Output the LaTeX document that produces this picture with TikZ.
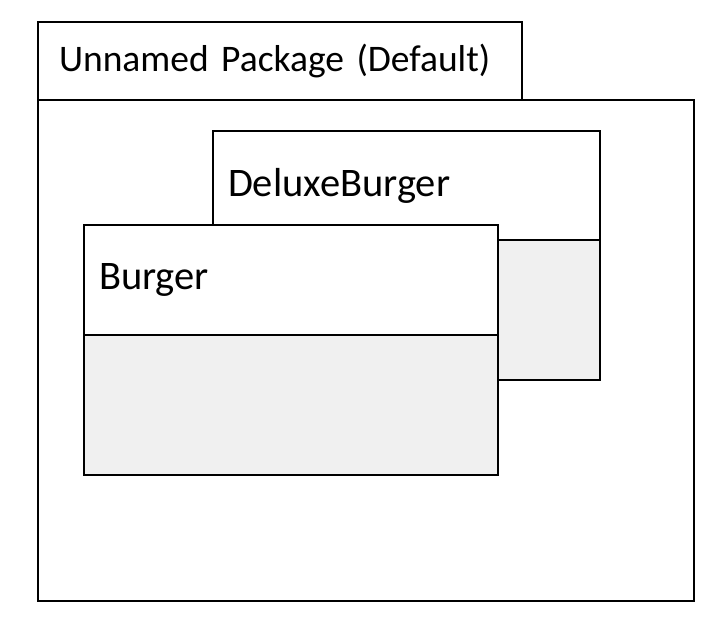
\documentclass[tikz,border=0pt]{standalone}
\usepackage{fontspec}
\setmainfont{Carlito}
\usetikzlibrary{positioning}
\definecolor{bodyGray}{HTML}{F0F0F0}
\begin{document}
\begin{tikzpicture}[x=1pt,y=-1pt,
    every node/.style={draw,line width=2.5pt,rectangle,anchor=north west,outer sep=0pt,inner sep=0pt},
    pkgTab/.style={fill=white,font=\fontsize{37.5}{40}\selectfont,inner xsep=21pt,align=left},
    classHead/.style={fill=white,font=\fontsize{40.5}{44}\selectfont,inner xsep=15pt,align=left},
    classBody/.style={fill=bodyGray}]
    % constants
    \def\pkgWidth{656}
    \def\pkgHeight{501}
    \def\tabWidth{484}
    \def\tabHeight{78}
    \def\headHeight{110}
    \def\bodyHeight{140}
    \useasboundingbox (0,0) rectangle (726,642);
    % package
    \node [minimum width=\pkgWidth, minimum height=\pkgHeight] (pkgBody) at (38,100) {};
    \node [pkgTab, minimum width=\tabWidth, minimum height=\tabHeight, text width=\tabWidth-42,
        above right=0pt and 0pt of pkgBody.north west] (pkgTab) {Unnamed Package (Default)};
    % DeluxeBurger class
    \node [classHead, minimum width=387, minimum height=109, text width=357] (deluxeHead) at (213,131) {DeluxeBurger};
    \node [classBody, minimum width=387, minimum height=\bodyHeight,
        below right=0pt and 0pt of deluxeHead.south west] (deluxeBody) {};
    % Burger class
    \node [classHead, minimum width=414, minimum height=\headHeight, text width=384] (burgerHead) at (84,225) {Burger};
    \node [classBody, minimum width=414, minimum height=\bodyHeight,
        below right=0pt and 0pt of burgerHead.south west] (burgerBody) {};
\end{tikzpicture}
\end{document}
